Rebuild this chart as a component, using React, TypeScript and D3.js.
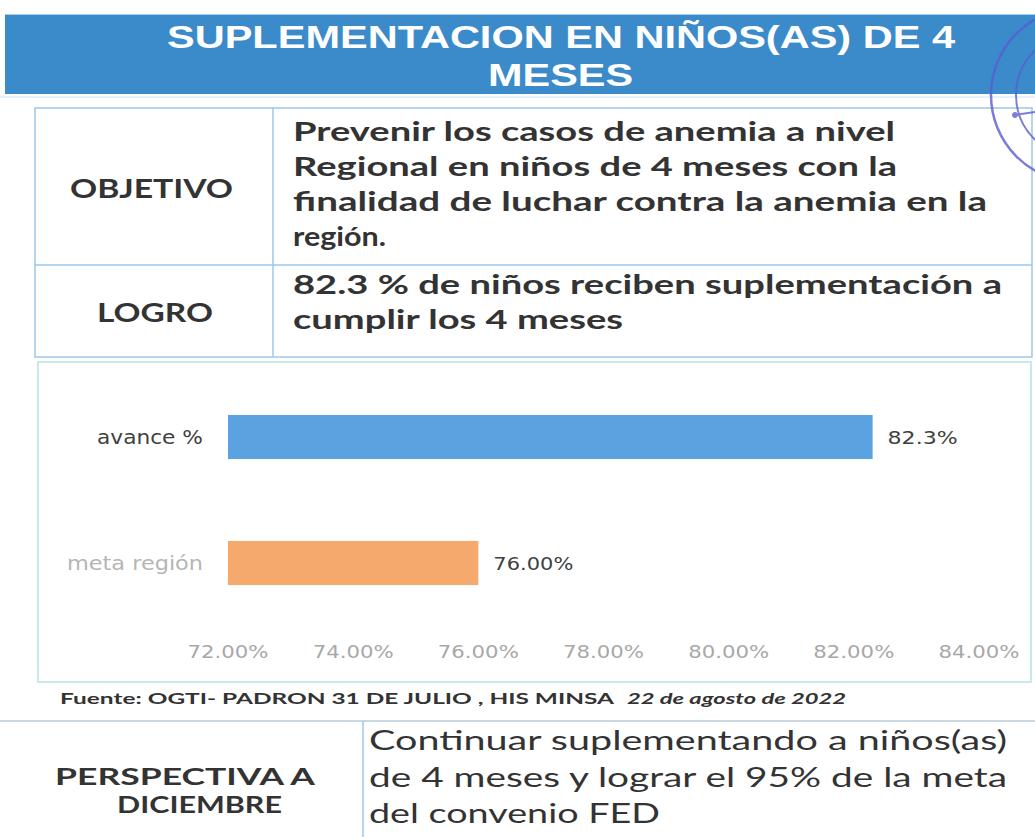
import React from "react";
import * as d3 from "d3";

// ---- data ----
const categories = ["avance %", "meta región"];
const values = [0.823, 0.76];
const valueLabels = ["82.3%", "76.00%"];
const tickValues = [0.72, 0.74, 0.76, 0.78, 0.8, 0.82, 0.84];
const barColors = ["#5ba3e0", "#f6a96c"];
const categoryColors = ["#404040", "#b5b5b5"];

const titleLines = ["SUPLEMENTACION EN NIÑOS(AS) DE 4", "MESES"];
const objetivoLines = [
  "Prevenir los casos de anemia a nivel",
  "Regional en niños de 4 meses con la",
  "finalidad de luchar contra la anemia en la",
  "región.",
];
const logroLines = ["82.3 % de niños reciben suplementación a", "cumplir los 4 meses"];
const perspectivaLabel = ["PERSPECTIVA A", "DICIEMBRE"];
const perspectivaLines = [
  "Continuar suplementando a niños(as)",
  "de 4 meses y lograr el 95% de la meta",
  "del convenio FED",
];
const fuenteBold = "Fuente: OGTI- PADRON 31 DE JULIO , HIS MINSA";
const fuenteItalic = "22 de agosto de  2022";

const T = (p: any) => {
  const { len, children, ...rest } = p;
  return (
    <text {...rest} textLength={len} lengthAdjust="spacingAndGlyphs">
      {children}
    </text>
  );
};

export default function App() {
  const W = 1035;
  const H = 837;
  const x = d3.scaleLinear().domain([0.72, 0.84]).range([228, 979]);
  const y = d3
    .scaleBand<string>()
    .domain(categories)
    .range([374, 626])
    .paddingInner(0.65)
    .paddingOuter(0.325);
  const fmt = d3.format(".2%");

  const objEnds = [895, 897, 987, 386];
  const objBase = [141, 176, 211, 246];
  const logEnds = [1002, 623];
  const logBase = [294, 329];
  const perEnds = [1007, 1007, 660];
  const perBase = [750, 787, 823];

  const tableStroke = "#9cc8e8";
  const textDark = "#333333";
  const lato = "Lato, 'Open Sans', sans-serif";
  const dv = "'DejaVu Sans', sans-serif";

  return (
    <svg
      width={W}
      height={H}
      style={{ position: "absolute", left: 0, top: 0, background: "#fff" }}
    >
      <rect x={0} y={0} width={W} height={H} fill="#fff" />
      {/* header band */}
      <rect x={5} y={15} width={W - 5} height={79} fill="#3b8bcb" />
      <line x1={5} x2={W} y1={14.5} y2={14.5} stroke="#a9cde9" strokeWidth={1} />
      <T
        x={167}
        y={48}
        len={788}
        fill="#fff"
        fontFamily="'Liberation Sans', Arial, sans-serif"
        fontWeight="bold"
        fontSize={32}
      >
        {titleLines[0]}
      </T>
      <T
        x={488}
        y={86}
        len={145}
        fill="#fff"
        fontFamily="'Liberation Sans', Arial, sans-serif"
        fontWeight="bold"
        fontSize={32}
      >
        {titleLines[1]}
      </T>

      {/* table */}
      <line x1={0} x2={W} y1={97} y2={97} stroke="#cfe4f4" strokeWidth={1} />
      <rect x={35} y={108} width={997} height={249} fill="none" stroke={tableStroke} strokeWidth={1.5} />
      <line x1={273} x2={273} y1={108} y2={357} stroke={tableStroke} strokeWidth={1.5} />
      <line x1={35} x2={1032} y1={265} y2={265} stroke={tableStroke} strokeWidth={1.5} />

      <T x={70} y={198} len={163} fill={textDark} fontFamily={lato} fontWeight="bold" fontSize={26}>
        OBJETIVO
      </T>
      <T x={97} y={322} len={116} fill={textDark} fontFamily={lato} fontWeight="bold" fontSize={26}>
        LOGRO
      </T>
      {objetivoLines.map((s, i) => (
        <T
          key={s}
          x={293}
          y={objBase[i]}
          len={objEnds[i] - 293}
          fill={textDark}
          fontFamily={lato}
          fontWeight="bold"
          fontSize={27}
        >
          {s}
        </T>
      ))}
      {logroLines.map((s, i) => (
        <T
          key={s}
          x={293}
          y={logBase[i]}
          len={logEnds[i] - 293}
          fill={textDark}
          fontFamily={lato}
          fontWeight="bold"
          fontSize={27}
        >
          {s}
        </T>
      ))}

      {/* stamp */}
      <g fill="none" stroke="#5a5ed0" opacity={0.8}>
        <circle cx={1078} cy={95} r={87} strokeWidth={2.5} />
        <circle cx={1078} cy={95} r={62} strokeWidth={2} />
        <circle cx={1015} cy={115} r={2.5} fill="#5a5ed0" />
        <line x1={1015} y1={115} x2={1035} y2={112} strokeWidth={2} />
      </g>

      {/* chart box */}
      <rect x={38} y={362} width={993} height={320} fill="none" stroke="#c7e9ee" strokeWidth={2} />

      {categories.map((c, i) => {
        const by = y(c)!;
        const bh = y.bandwidth();
        return (
          <g key={c}>
            <rect x={x(0.72)} y={by} width={x(values[i]) - x(0.72)} height={bh} fill={barColors[i]} />
            <T
              x={203}
              y={by + bh / 2 + 7}
              len={i === 0 ? 106 : 136}
              textAnchor="end"
              fill={categoryColors[i]}
              fontFamily={dv}
              fontSize={19}
            >
              {c}
            </T>
            <T
              x={x(values[i]) + 15}
              y={by + bh / 2 + 7}
              len={i === 0 ? 70 : 80}
              fill="#404040"
              fontFamily={dv}
              fontSize={18}
            >
              {valueLabels[i]}
            </T>
          </g>
        );
      })}

      {tickValues.map((t) => (
        <T
          key={t}
          x={x(t)}
          y={658}
          len={81}
          textAnchor="middle"
          fill="#a8a8a8"
          fontFamily={dv}
          fontSize={18}
        >
          {fmt(t)}
        </T>
      ))}

      {/* source */}
      <T x={60} y={704} len={554} fill={textDark} fontFamily={lato} fontWeight="bold" fontSize={16}>
        {fuenteBold}
      </T>
      <T
        x={627}
        y={704}
        len={219}
        fill={textDark}
        fontFamily={lato}
        fontWeight="bold"
        fontStyle="italic"
        fontSize={16}
      >
        {fuenteItalic}
      </T>

      {/* perspectiva */}
      <line x1={0} x2={W} y1={721} y2={721} stroke="#c9d9e4" strokeWidth={2} />
      <line x1={363} x2={363} y1={721} y2={H} stroke={tableStroke} strokeWidth={1.5} />
      <T x={55} y={785} len={260} fill={textDark} fontFamily={lato} fontWeight="bold" fontSize={23}>
        {perspectivaLabel[0]}
      </T>
      <T x={117} y={813} len={165} fill={textDark} fontFamily={lato} fontWeight="bold" fontSize={23}>
        {perspectivaLabel[1]}
      </T>
      {perspectivaLines.map((s, i) => (
        <T
          key={s}
          x={369}
          y={perBase[i]}
          len={perEnds[i] - 369}
          fill={textDark}
          fontFamily={lato}
          fontSize={27}
        >
          {s}
        </T>
      ))}
    </svg>
  );
}
